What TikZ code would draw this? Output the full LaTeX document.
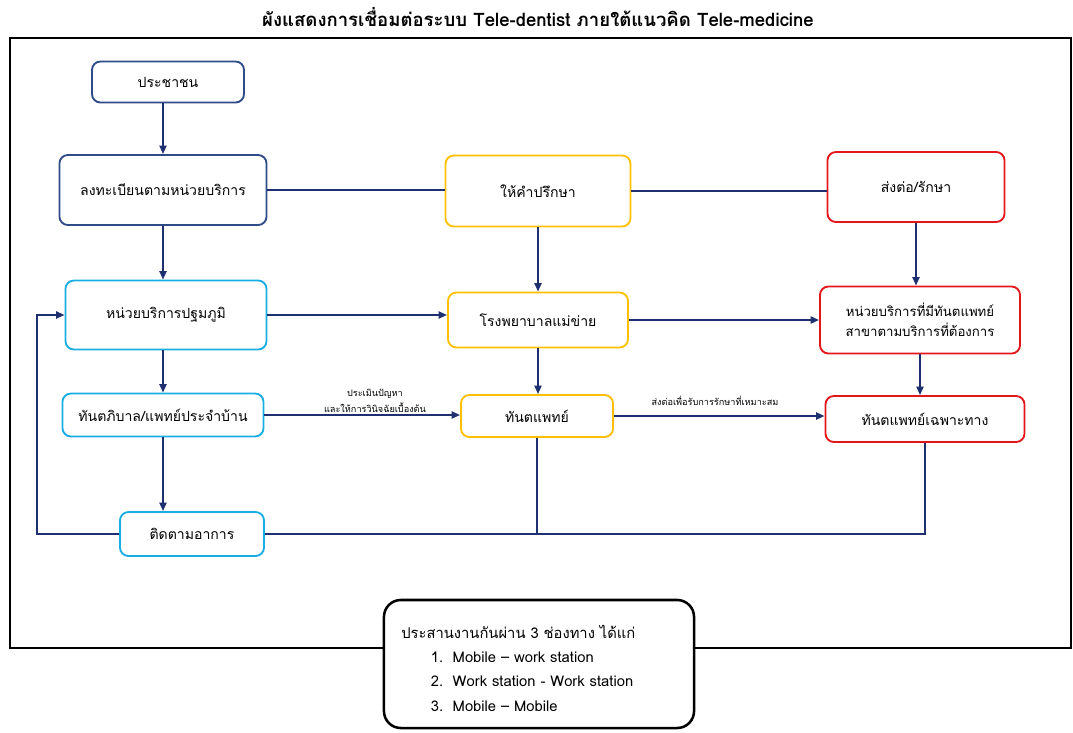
\documentclass[tikz,border=0pt]{standalone}
\usepackage{fontspec}
\setmainfont[Script=Thai]{Loma}
\usetikzlibrary{arrows.meta, positioning}

\definecolor{navybox}{HTML}{2F4B87}
\definecolor{goldbox}{HTML}{FFC000}
\definecolor{redbox}{HTML}{E3161B}
\definecolor{skyline}{HTML}{1AADE3}
\definecolor{linknavy}{HTML}{1F3070}

\tikzset{
  box/.style={draw, rounded corners=6pt, line width=1.3pt, fill=white, align=center,
    inner sep=2pt, font=\fontsize{10}{14}\selectfont},
  navybx/.style={box, draw=navybox},
  goldbx/.style={box, draw=goldbox},
  redbx/.style={box, draw=redbox},
  skybx/.style={box, draw=skyline},
  link/.style={draw=linknavy, line width=1.4pt},
  arr/.style={link, -{Triangle[length=6pt,width=5pt]}},
  note/.style={align=center, font=\fontsize{6.5}{11}\selectfont}
}

\begin{document}
\begin{tikzpicture}[x=0.025cm, y=-0.025cm]
        % Page and frame
        \useasboundingbox (0,0) rectangle (1073,732);
        \draw[line width=1.5pt] (10,38) rectangle (1071,648);

        % Title
        \node[font=\fontsize{13.2}{15}\selectfont\bfseries] (title) at (538,17)
            {ผังแสดงการเชื่อมต่อระบบ Tele-dentist ภายใต้แนวคิด Tele-medicine};

        % Left column
        \node[navybx, minimum width=3.8cm, minimum height=1.025cm] (people) at (168,82) {ประชาชน};
        \node[navybx, minimum width=5.175cm, minimum height=1.75cm] (regist) at (163,190) {ลงทะเบียนตามหน่วยบริการ};
        \node[skybx, minimum width=5.025cm, minimum height=1.725cm] (primary) at (166,315) {หน่วยบริการปฐมภูมิ};
        \node[skybx, minimum width=5.025cm, minimum height=1.075cm] (homedoc) at (163,415) {ทันตภิบาล/แพทย์ประจำบ้าน};
        \node[skybx, minimum width=3.6cm, minimum height=1.1cm] (follow) at (192,534) {ติดตามอาการ};

        % Middle column
        \node[goldbx, minimum width=4.625cm, minimum height=1.775cm] (consult) at (538,191) {ให้คำปรึกษา};
        \node[goldbx, minimum width=4.5cm, minimum height=1.375cm] (hosp) at (538,320) {โรงพยาบาลแม่ข่าย};
        \node[goldbx, minimum width=3.8cm, minimum height=1.05cm] (dentist) at (537,416) {ทันตแพทย์};

        % Right column
        \node[redbx, minimum width=4.425cm, minimum height=1.75cm] (refer) at (916,187) {ส่งต่อ/รักษา};
        \node[redbx, minimum width=5cm, minimum height=1.675cm, font=\fontsize{9.4}{14}\selectfont]
            (unit) at (920,320) {หน่วยบริการที่มีทันตแพทย์\\สาขาตามบริการที่ต้องการ};
        \node[redbx, minimum width=4.975cm, minimum height=1.15cm] (special) at (925,419) {ทันตแพทย์เฉพาะทาง};

        % Top row links
        \draw[arr] (regist.north |- people.south) -- (regist.north);
        \draw[link] (regist.east) -- (regist.east -| consult.west);
        \draw[link] (consult.east) -- (consult.east -| refer.west);

        % Downward arrows
        \draw[arr] (regist.south) -- (regist.south |- primary.north);
        \draw[arr] (consult.south) -- (hosp.north);
        \draw[arr] (refer.south) -- (refer.south |- unit.north);
        \draw[arr] (homedoc.north |- primary.south) -- (homedoc.north);
        \draw[arr] (hosp.south) -- (hosp.south |- dentist.north);
        \draw[arr] (unit.south) -- (unit.south |- special.north);
        \draw[arr] (homedoc.south) -- (homedoc.south |- follow.north);

        % Across arrows
        \draw[arr] (primary.east) -- (primary.east -| hosp.west);
        \draw[arr] (hosp.east) -- (hosp.east -| unit.west);
        \draw[arr] (homedoc.east) -- (homedoc.east -| dentist.west);
        \draw[arr] (dentist.east) -- (dentist.east -| special.west);
        \node[note] (assess) at (375,401) {ประเมินปัญหา\\และให้การวินิจฉัยเบื้องต้น};
        \node[note] (suit) at (715,401) {ส่งต่อเพื่อรับการรักษาที่เหมาะสม};

        % Follow-up loop
        \coordinate (loopL) at (37,534);
        \draw[arr] (follow.west) -- (loopL) |- (primary.west);
        \draw[link] (follow.east) -| (special.south);
        \draw[link] (dentist.south) -- (dentist.south |- follow.east);

        % Channels box
        \node[draw, line width=1.8pt, rounded corners=12pt, fill=white, minimum width=7.75cm,
            minimum height=3.2cm] (channels) at (539,664) {};
        \node[anchor=base west, inner sep=0pt, text width=7cm, align=left,
            font=\fontsize{10.5}{17.4}\selectfont] (chtext) at (401,638)
            {ประสานงานกันผ่าน 3 ช่องทาง ได้แก่\\
             \hspace*{2em}1.\hspace{0.65em}Mobile – work station\\
             \hspace*{2em}2.\hspace{0.65em}Work station - Work station\\
             \hspace*{2em}3.\hspace{0.65em}Mobile – Mobile};
    \end{tikzpicture}
\end{document}
